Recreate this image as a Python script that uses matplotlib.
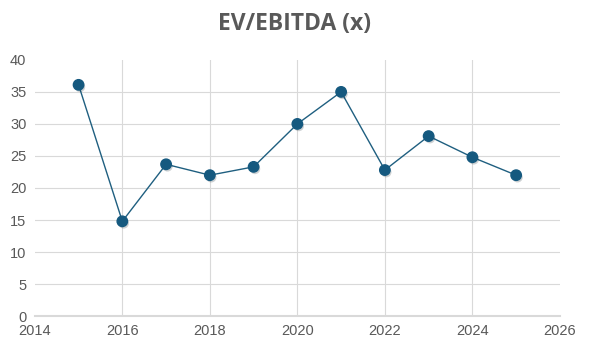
import matplotlib.pyplot as plt
import matplotlib.patheffects as pe

years = [2015, 2016, 2017, 2018, 2019, 2020, 2021, 2022, 2023, 2024, 2025]
ev_ebitda = [36.1, 14.8, 23.7, 22.0, 23.3, 30.0, 35.0, 22.8, 28.1, 24.8, 22.0]

x_ticks = [2014, 2016, 2018, 2020, 2022, 2024, 2026]
y_ticks = [0, 5, 10, 15, 20, 25, 30, 35, 40]

fig = plt.figure(figsize=(5.9, 3.44), dpi=100)
ax = fig.add_axes([0.059, 0.081, 0.890, 0.745])

line_color = "#1F5F80"
ax.plot(years, ev_ebitda, color=line_color, linewidth=1.0, zorder=3)
ax.plot(years, ev_ebitda, linestyle="none", marker="o", markersize=7.5,
        markerfacecolor="#15597F", markeredgecolor="#15597F", zorder=4,
        path_effects=[pe.SimplePatchShadow(offset=(1, -1.5), alpha=0.2), pe.Normal()])

ax.set_xlim(2014, 2026)
ax.set_ylim(0, 40)
ax.set_xticks(x_ticks)
ax.set_yticks(y_ticks)

tick_font = {"family": ["Liberation Sans", "DejaVu Sans"], "size": 10.5}
ax.set_xticklabels([str(t) for t in x_ticks], **tick_font, color="#595959")
ax.set_yticklabels([str(t) for t in y_ticks], **tick_font, color="#595959")
ax.tick_params(length=0, pad=6)

ax.grid(True, color="#D9D9D9", linewidth=0.8)
ax.set_axisbelow(True)
# no gridlines on the outer edges of the plot area
xg = ax.get_xgridlines()
xg[0].set_visible(False)
xg[-1].set_visible(False)
ax.get_ygridlines()[-1].set_visible(False)

for side in ["left", "right", "top"]:
    ax.spines[side].set_visible(False)
ax.spines["bottom"].set_color("#D9D9D9")
ax.spines["bottom"].set_linewidth(1.5)

fig.text(0.5, 0.93, "EV/EBITDA (x)", ha="center", va="center",
         family=["Open Sans", "DejaVu Sans"], fontweight="bold",
         fontsize=16.5, color="#595959")

fig.savefig("out.png", dpi=100)
